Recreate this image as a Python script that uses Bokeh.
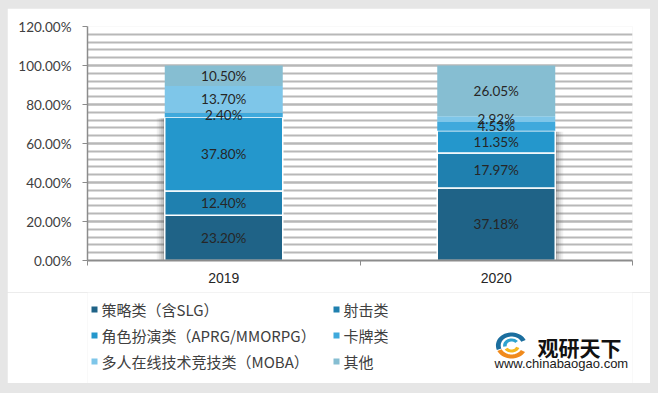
import numpy as np
from bokeh.plotting import figure
from bokeh.layouts import column
from bokeh.models import (ColumnDataSource, Range1d, FixedTicker, PrintfTickFormatter)
from bokeh.core.properties import value
from bokeh.embed import file_html
from bokeh.resources import INLINE

# ---------------- data ----------------
years = ["2019", "2020"]
series_names = ["策略类（含SLG）", "射击类", "角色扮演类（APRG/MMORPG）",
                "卡牌类", "多人在线技术竞技类（MOBA）", "其他"]
strategy = [23.20, 37.18]
shooter = [12.40, 17.97]
rpg = [37.80, 11.35]
card = [2.40, 4.53]
moba = [13.70, 2.92]
other = [10.50, 26.05]
y_ticks = [0, 20, 40, 60, 80, 100, 120]

colors = ["#1F6387", "#1F80AF", "#2497CC", "#3FA9DC", "#7EC6E9", "#86BED2"]
keys = ["strategy", "shooter", "rpg", "card", "moba", "other"]
values_list = [strategy, shooter, rpg, card, moba, other]

x = list(range(len(years)))
src = ColumnDataSource(dict(x=x, **{k: v for k, v in zip(keys, values_list)}))

BAR_W = 0.433
BG = "#E6E6E6"
FIG_W = 643
ML, MR = 80, 18

# ---------------- chart ----------------
p = figure(width=FIG_W, height=284, x_range=Range1d(-0.5, 1.5), y_range=Range1d(0, 120),
           output_backend="svg", toolbar_location=None,
           min_border_left=ML, min_border_right=MR, min_border_top=18, min_border_bottom=32,
           margin=(8, 8, 0, 7))
p.outline_line_color = None
p.background_fill_color = "white"
p.border_fill_color = "white"

p.xgrid.grid_line_color = None
p.yaxis.ticker = FixedTicker(ticks=y_ticks, minor_ticks=list(np.arange(0, 121, 4)))
p.ygrid.grid_line_color = "#B8B8B8"
p.ygrid.grid_line_width = 2
p.ygrid.minor_grid_line_color = "#B8B8B8"
p.ygrid.minor_grid_line_width = 2

p.yaxis.formatter = PrintfTickFormatter(format="%.2f%%")
p.yaxis.axis_line_color = "#8C8C8C"
p.yaxis.axis_line_width = 1.5
p.yaxis.major_tick_line_color = "#8C8C8C"
p.yaxis.major_tick_out = 5
p.yaxis.major_tick_in = 0
p.yaxis.minor_tick_line_color = None
p.yaxis.major_label_standoff = 11
p.yaxis.major_label_text_font = "Lato"
p.yaxis.major_label_text_font_size = "13.5px"
p.yaxis.major_label_text_color = "#404040"

p.xaxis.ticker = FixedTicker(ticks=x, minor_ticks=[-0.5, 0.5, 1.5])
p.xaxis.major_label_overrides = {i: y for i, y in zip(x, years)}
p.xaxis.axis_line_color = "#8C8C8C"
p.xaxis.axis_line_width = 2
p.xaxis.major_tick_line_color = None
p.xaxis.minor_tick_line_color = "#8C8C8C"
p.xaxis.minor_tick_out = 5
p.xaxis.minor_tick_in = 0
p.xaxis.major_label_standoff = 6
p.xaxis.major_label_text_font = "Liberation Sans"
p.xaxis.major_label_text_font_size = "14px"
p.xaxis.major_label_text_color = "#262626"

# shadows for the lower three segments
lower_top = np.array(strategy) + np.array(shooter) + np.array(rpg)
shadow_side = [-1, 1]
px = 1.0 / 272.5
for k, a in enumerate([0.42, 0.28, 0.16, 0.07]):
    lefts, rights = [], []
    for i, s in enumerate(shadow_side):
        edge = x[i] + s * BAR_W / 2
        if s < 0:
            lefts.append(edge - (k + 1) * 2 * px); rights.append(edge - k * 2 * px)
        else:
            lefts.append(edge + k * 2 * px); rights.append(edge + (k + 1) * 2 * px)
    p.quad(left=lefts, right=rights, bottom=[0, 0], top=list(lower_top - 0.5),
           fill_color="#404040", fill_alpha=a, line_color=None)

line_colors = ["white", "white", "white", None, None, None]
renderers = p.vbar_stack(keys, x="x", width=BAR_W, source=src,
                         color=colors, line_color=line_colors, line_width=1.5)

cum = np.zeros(len(years))
lx, ly, lt = [], [], []
for vals in values_list:
    v = np.array(vals)
    for i in range(len(years)):
        lx.append(x[i]); ly.append(cum[i] + v[i] / 2); lt.append(f"{v[i]:.2f}%")
    cum += v
p.text(x=lx, y=ly, text=lt, text_align="center", text_baseline="middle",
       text_font=value("Lato"), text_font_size="13.5px", text_color="#262626")

# ---------------- legend + watermark panel (pixel coordinates of the panel) ----------------
H2 = 91
q = figure(width=FIG_W, height=H2, x_range=Range1d(ML, FIG_W - MR), y_range=Range1d(H2, 0),
           output_backend="svg", toolbar_location=None, x_axis_type=None, y_axis_type=None,
           min_border_left=ML, min_border_right=MR, min_border_top=0, min_border_bottom=0,
           margin=(0, 8, 10, 7))
q.outline_line_color = None
q.grid.visible = False
q.background_fill_color = "white"
q.border_fill_color = "white"

# legend: two columns, three rows, filled row by row
col_x = [87, 329]
row_y = [17, 43, 69]
lg_x = [col_x[i % 2] for i in range(len(series_names))]
lg_y = [row_y[i // 2] for i in range(len(series_names))]
q.rect(x=lg_x, y=lg_y, width=6, height=6, fill_color=colors, line_color=None)
q.text(x=[v + 7 for v in lg_x], y=lg_y, text=series_names,
       text_font=value("Noto Sans CJK SC"), text_font_size="15px", text_color="#404040",
       text_baseline="middle")

# watermark
q.text(x=[530], y=[54], text=["观研天下"], text_font=value("Noto Sans CJK SC"),
       text_font_style="bold", text_font_size="21px", text_color="#111111",
       text_baseline="middle")
q.text(x=[487], y=[71], text=["www.chinabaogao.com"], text_font=value("Liberation Sans"),
       text_font_size="13px", text_color="#1a1a1a", text_baseline="middle")

def arc_poly(cx, cy, r1, r2, a0, a1, sx=1.2, n=24):
    t = np.linspace(np.radians(a0), np.radians(a1), n)
    xs = list(cx + sx * r2 * np.cos(t)) + list(cx + sx * r1 * np.cos(t[::-1]))
    ys = list(cy - r2 * np.sin(t)) + list(cy - r1 * np.sin(t[::-1]))
    return xs, ys

lcx, lcy = 504, 53
pxs, pys, pcs = [], [], []
for (r1, r2, a0, a1, c) in [(9, 13, 25, 200, "#1B6E9E"), (4, 7, 40, 190, "#2FA3CF"),
                             (9, 13, 205, 330, "#F08A1C"), (4, 7, 215, 340, "#F6B81E")]:
    xs, ys = arc_poly(lcx, lcy, r1, r2, a0, a1)
    pxs.append(xs); pys.append(ys); pcs.append(c)
q.patches(xs=pxs, ys=pys, fill_color=pcs, line_color=None)

layout = column(p, q, spacing=0, styles={"background-color": BG})

open("out.html", "w").write(file_html(layout, INLINE))
